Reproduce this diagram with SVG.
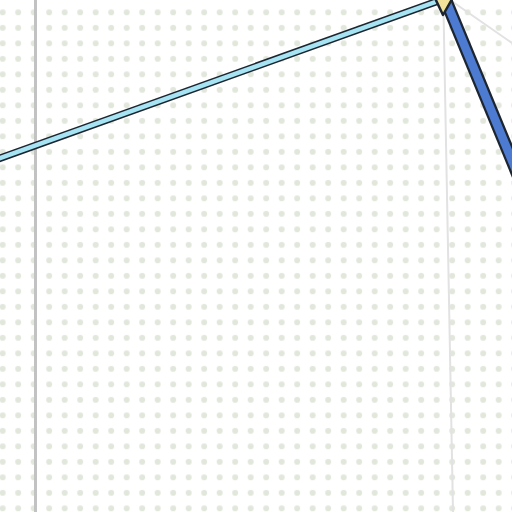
<svg xmlns="http://www.w3.org/2000/svg" width="512" height="512" viewBox="0 0 512 512">
<defs>
<pattern id="dots" patternUnits="userSpaceOnUse" x="-5.05" y="4.55" width="15.5" height="15.5">
<circle cx="7.75" cy="7.75" r="3" fill="#e2e7dc"/>
</pattern>
<style>
.guide{fill:none;stroke:#e2e2e2;stroke-width:2}
.outline{fill:none;stroke:#1c2530;stroke-linecap:butt}
</style>
</defs>
<rect width="512" height="512" fill="#ffffff"/>
<rect width="512" height="512" fill="url(#dots)"/>
<line x1="35.5" y1="0" x2="35.5" y2="512" stroke="#c2c2c2" stroke-width="3"/>
<g id="connectors">
<line class="guide" x1="443.5" y1="10" x2="453" y2="512"/>
<line class="guide" x1="450" y1="0" x2="512" y2="43"/>
<line class="outline" x1="-5" y1="160" x2="441" y2="0" stroke-width="7.5"/>
<line x1="-5" y1="160" x2="441" y2="0" stroke="#a6e4f4" stroke-width="4.5"/>
<line class="outline" x1="444" y1="-4" x2="520" y2="180" stroke-width="13"/>
<line x1="444" y1="-4" x2="520" y2="180" stroke="#4d7bd2" stroke-width="8.5"/>
</g>
<g id="node-apex">
<polygon points="433,-6 455,-6 443,15" fill="#f3e39a" stroke="#1c2530" stroke-width="2.5" stroke-linejoin="round"/>
</g>
</svg>
